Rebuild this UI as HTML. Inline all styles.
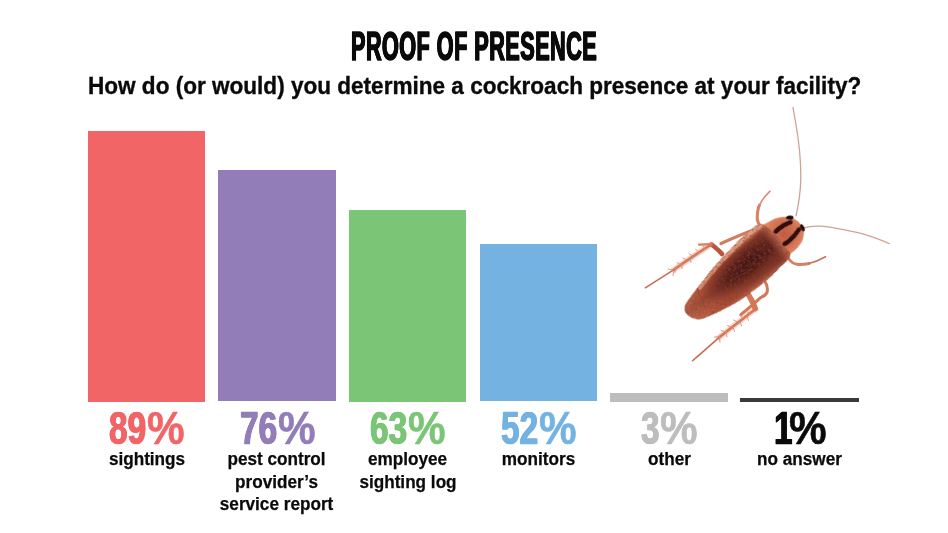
<!DOCTYPE html>
<html><head><meta charset="utf-8">
<style>
html,body{margin:0;padding:0;background:#fff;}
body{width:948px;height:533px;position:relative;overflow:hidden;font-family:"Liberation Sans",sans-serif;}
.bar{position:absolute;}
#title{position:absolute;left:350.8px;top:20.8px;text-shadow:0.9px 0 0 #0a0a0a,-0.9px 0 0 #0a0a0a;white-space:nowrap;font-weight:bold;font-size:41px;line-height:50px;color:#0a0a0a;transform-origin:0 0;transform:scaleX(0.526);-webkit-text-stroke:1.6px #0a0a0a;letter-spacing:1px;}
#sub{position:absolute;left:88.3px;top:71.3px;white-space:nowrap;font-weight:bold;font-size:24.5px;line-height:30px;color:#0a0a0a;transform-origin:0 0;transform:scaleX(0.9205);-webkit-text-stroke:0.35px #0a0a0a;}
.pct{position:absolute;top:403.6px;width:160px;height:50px;white-space:nowrap;font-weight:bold;font-size:45.5px;line-height:50px;}
.pct span{position:absolute;top:0;transform-origin:0 0;-webkit-text-stroke:0.6px currentColor;}
.pct .d{transform:scaleX(0.733);text-shadow:0.8px 0 0 currentColor,-0.8px 0 0 currentColor;}
.pct .p{transform:scaleX(0.93);}
.lbl{position:absolute;top:448px;width:160px;text-align:center;font-weight:bold;font-size:18px;line-height:22.5px;color:#0a0a0a;}
.lbl span{display:inline-block;transform:scaleX(0.953);white-space:nowrap;-webkit-text-stroke:0.25px #0a0a0a;}
</style></head><body>
<div id="title">PROOF OF PRESENCE</div>
<div id="sub">How do (or would) you determine a cockroach presence at your facility?</div>

<div class="bar" style="left:88px;top:131px;width:117px;height:270.5px;background:#f26566;"></div>
<div class="bar" style="left:218.4px;top:170.3px;width:117.5px;height:231.2px;background:#927db8;"></div>
<div class="bar" style="left:349px;top:210px;width:117.4px;height:191.5px;background:#7bc576;"></div>
<div class="bar" style="left:479.8px;top:243.7px;width:117.2px;height:157.8px;background:#74b2e2;"></div>
<div class="bar" style="left:610px;top:392.6px;width:118px;height:9px;background:#bdbdbd;"></div>
<div class="bar" style="left:740.3px;top:398px;width:119px;height:4.3px;background:#3a3a3a;"></div>

<div class="pct" style="left:108.7px;color:#f26566;"><span class="d">89</span><span class="p" style="left:38.1px">%</span></div>
<div class="pct" style="left:240.1px;color:#927db8;"><span class="d">76</span><span class="p" style="left:38.1px">%</span></div>
<div class="pct" style="left:370.3px;color:#7bc576;"><span class="d">63</span><span class="p" style="left:38.1px">%</span></div>
<div class="pct" style="left:501.4px;color:#74b2e2;"><span class="d">52</span><span class="p" style="left:38.1px">%</span></div>
<div class="pct" style="left:640.7px;color:#bdbdbd;"><span class="d">3</span><span class="p" style="left:19.8px">%</span></div>
<div class="pct" style="left:774.3px;color:#0a0a0a;"><span class="d">1</span><span class="p" style="left:14.8px">%</span></div>

<div class="lbl" style="left:66.5px;"><span>sightings</span></div>
<div class="lbl" style="left:197px;"><span>pest control</span><br><span>provider’s</span><br><span>service report</span></div>
<div class="lbl" style="left:328px;"><span>employee</span><br><span>sighting log</span></div>
<div class="lbl" style="left:458.5px;"><span>monitors</span></div>
<div class="lbl" style="left:589px;"><span>other</span></div>
<div class="lbl" style="left:720px;"><span>no answer</span></div>

<svg id="roach" width="948" height="533" viewBox="0 0 948 533" style="position:absolute;left:0;top:0;">
<defs>
<linearGradient id="gLen" x1="-72" y1="0" x2="46" y2="0" gradientUnits="userSpaceOnUse">
<stop offset="0" stop-color="#d97a5b"/><stop offset="0.12" stop-color="#c96647"/><stop offset="0.35" stop-color="#a4452f"/><stop offset="0.65" stop-color="#833323"/><stop offset="1" stop-color="#6f291e"/>
</linearGradient>
<linearGradient id="gAcross" x1="0" y1="-25" x2="0" y2="25" gradientUnits="userSpaceOnUse">
<stop offset="0" stop-color="#f0a484" stop-opacity="0.95"/><stop offset="0.1" stop-color="#e08a68" stop-opacity="0.8"/><stop offset="0.2" stop-color="#b85a40" stop-opacity="0.2"/><stop offset="0.5" stop-color="#4a1812" stop-opacity="0.3"/><stop offset="0.85" stop-color="#b85a40" stop-opacity="0.15"/><stop offset="1" stop-color="#dc8563" stop-opacity="0.75"/>
</linearGradient>
<radialGradient id="gDark" cx="6" cy="0" r="54" gradientUnits="userSpaceOnUse" gradientTransform="translate(6 0) scale(1 0.34) translate(-6 0)">
<stop offset="0" stop-color="#3a100e" stop-opacity="0.92"/><stop offset="0.5" stop-color="#4a1610" stop-opacity="0.72"/><stop offset="0.8" stop-color="#5a2018" stop-opacity="0.3"/><stop offset="1" stop-color="#5a2018" stop-opacity="0"/>
</radialGradient>
<linearGradient id="gFade" x1="36" y1="0" x2="47" y2="0" gradientUnits="userSpaceOnUse">
<stop offset="0" stop-color="#c96a4e" stop-opacity="0"/><stop offset="1" stop-color="#d4775a" stop-opacity="0.85"/>
</linearGradient>
<radialGradient id="gPro" cx="54" cy="0" r="22" gradientUnits="userSpaceOnUse">
<stop offset="0" stop-color="#c05c42"/><stop offset="0.6" stop-color="#d27252"/><stop offset="1" stop-color="#e48d6f"/>
</radialGradient>
<filter id="tex" x="-5%" y="-5%" width="110%" height="110%">
<feTurbulence type="fractalNoise" baseFrequency="0.35 0.9" numOctaves="2" seed="4" result="n"/>
<feColorMatrix in="n" type="matrix" values="0 0 0 0 0.2  0 0 0 0 0.05  0 0 0 0 0.04  0 0 0 2.2 -0.95" result="c"/>
<feComposite in="c" in2="SourceAlpha" operator="in" result="cc"/>
<feMerge><feMergeNode in="SourceGraphic"/><feMergeNode in="cc"/></feMerge>
</filter>
<filter id="soft" filterUnits="userSpaceOnUse" x="600" y="90" width="320" height="300"><feGaussianBlur stdDeviation="0.45"/></filter>
<filter id="soft2" filterUnits="userSpaceOnUse" x="-90" y="-40" width="180" height="80"><feGaussianBlur stdDeviation="0.55"/></filter>
</defs>
<g filter="url(#soft)">
<!-- antennae -->
<path d="M796 215.7 C798.5 205 800.6 195 800.8 178 C801 160 798.8 140 795.4 121 C794.3 115 793.4 110 793 107.5" fill="none" stroke="#cfa393" stroke-width="1.3" stroke-linecap="round"/>
<path d="M804.5 227.7 C810 226 815 226 820.1 226.2 C827 226.5 833 227.6 838.1 228.6 C846 230 855 232 862.1 233.7 C872 236.5 882 240.5 889.2 243.6" fill="none" stroke="#cfa393" stroke-width="1.3" stroke-linecap="round"/>
<!-- front-left leg -->
<path d="M761.5 228 C758.5 224 757 220.5 757.2 217 C757.4 212 758 208 759.5 205" fill="none" stroke="#d98063" stroke-width="3" stroke-linecap="round"/>
<path d="M759.5 205 C762 199.5 766 195 770 191.2" fill="none" stroke="#d98a70" stroke-width="1.6" stroke-linecap="round"/>
<!-- front-left femur along body -->
<path d="M721 243.5 C731 239 741 234.5 751 231" fill="none" stroke="#d47c60" stroke-width="3.2" stroke-linecap="round"/>
<!-- front-right leg -->
<path d="M788.5 258.5 C791 262 794 264 797 264.3 C801 264.8 805 264.3 809 263.5" fill="none" stroke="#d98063" stroke-width="3" stroke-linecap="round"/>
<path d="M809 263.5 C815 262 820.5 259.5 825.5 256.7" fill="none" stroke="#c9755a" stroke-width="1.6" stroke-linecap="round"/>
<path d="M711.500 244.400 C700 251.500 687 260.500 674 269.600" fill="none" stroke="#f0b9a4" stroke-opacity="0.55" stroke-width="6" stroke-linecap="round"/>
<path d="M755.500 309 C744 318 731 328 718.800 337.700" fill="none" stroke="#f0b9a4" stroke-opacity="0.55" stroke-width="6" stroke-linecap="round"/>
<!-- left middle leg -->
<path d="M722 254 C718.5 250.5 715.5 247 711.5 244.6" fill="none" stroke="#b9573d" stroke-width="4.600" stroke-linecap="round"/>
<path d="M699 244.6 L711 244.2" fill="none" stroke="#d98063" stroke-width="2.2" stroke-linecap="round"/>
<path d="M711.5 244.4 C700 251.5 687 260.5 674 269.6" fill="none" stroke="#d67a5e" stroke-width="2.8" stroke-linecap="round"/>
<path d="M674 269.6 C664 276 654.5 282 645.3 287.8" fill="none" stroke="#c9694f" stroke-width="1.5" stroke-linecap="round"/>
<!-- spines on left middle tibia -->
<path d="M705 248.5 l-3-4 M699 252.5 l-3.5-3.5 M693 256.5 l-4-3 M687 260.5 l-4-2.5 M681 265 l-4-2.5 M676 268 l-1 4.5 M682 264 l0 4.5 M690 258.5 l1 4 M673 270 l-5-1 M674 270.5 l-1 5" fill="none" stroke="#dc9078" stroke-width="0.9" stroke-linecap="round"/>
<!-- right middle leg -->
<path d="M765.5 282.500 C767.500 286 767.800 289.500 767 292.500 C765.500 295.500 763 296.800 760.600 297.700 C755 303 748 309 741 314.500" fill="none" stroke="#d4785b" stroke-width="3" stroke-linecap="round"/>
<!-- hind right leg -->
<path d="M748 294 C751 298.500 753.500 303.500 755.200 308.500" fill="none" stroke="#d67658" stroke-width="5.600" stroke-linecap="round"/>
<path d="M755.5 309 C744 318 731 328 718.8 337.7" fill="none" stroke="#d4775b" stroke-width="2.8" stroke-linecap="round"/>
<path d="M718.8 337.7 C710 345.5 701 353.5 692.5 360.8" fill="none" stroke="#c9694f" stroke-width="1.5" stroke-linecap="round"/>
<path d="M750 313.5 l-4.5-2.5 M744 318 l-4.5-2.5 M738 322.5 l-4.500-2.500 M732 327.500 l-4.500-2 M726 332 l-5-1.500 M747 316 l1.500 4.500 M740 321.500 l1.500 4.500 M733 327 l1.500 4.500 M726 332.500 l1 4.500 M720 337 l-5.500 0 M719.500 337.500 l0.500 5" fill="none" stroke="#dc9078" stroke-width="0.9" stroke-linecap="round"/>
</g>
<g transform="translate(742.2 268.2) rotate(-39)" filter="url(#soft2)">
<!-- pronotum -->
<path d="M36.0 -20.5 C38.2 -22.4 46.0 -19.9 50.0 -19.2 C54.0 -18.5 57.0 -17.9 60.0 -16.5 C63.0 -15.1 65.8 -13.1 67.8 -11.0 C69.8 -8.9 71.1 -6.2 72.0 -4.0 C72.9 -1.8 73.1 -0.2 73.0 2.0 C72.9 4.2 72.5 7.3 71.5 9.4 C70.5 11.5 68.5 13.2 67.0 14.5 C65.5 15.8 64.3 16.6 62.3 17.3 C60.3 18.1 57.5 18.7 55.0 19.0 C52.5 19.3 50.3 19.2 47.5 19.2 C44.7 19.2 39.8 21.2 38.0 19.0 C36.2 16.8 37.2 10.5 37.0 6.0 C36.8 1.5 37.2 -3.6 37.0 -8.0 C36.8 -12.4 33.8 -18.6 36.0 -20.5Z" fill="url(#gPro)"/>
<path d="M49.300 -7.400 C54 -8 60 -7.500 66.500 -5.400" fill="none" stroke="#33100d" stroke-width="4.600" stroke-linecap="round"/>
<path d="M48.200 7.900 C54 8.600 61 8.200 68.500 5.600" fill="none" stroke="#33100d" stroke-width="4.600" stroke-linecap="round"/>
<g filter="url(#tex)">
<path d="M-72.0 0.5 C-72.2 -1.8 -71.3 -3.5 -70.0 -5.0 C-68.7 -6.5 -69.0 -6.9 -64.0 -8.5 C-59.0 -10.1 -48.0 -12.7 -40.0 -14.5 C-32.0 -16.3 -24.3 -18.1 -16.0 -19.5 C-7.7 -20.9 2.5 -22.2 10.0 -23.0 C17.5 -23.8 23.7 -24.3 29.0 -24.2 C34.3 -24.1 39.2 -24.9 42.0 -22.5 C44.8 -20.1 45.3 -15.1 46.0 -10.0 C46.7 -4.9 46.2 2.9 46.0 8.0 C45.8 13.1 48.0 18.0 45.0 20.5 C42.0 23.0 33.8 22.5 28.0 23.2 C22.2 23.9 17.5 24.5 10.0 24.6 C2.5 24.7 -8.7 24.7 -17.0 24.0 C-25.3 23.3 -32.5 21.9 -40.0 20.3 C-47.5 18.7 -57.2 16.4 -62.0 14.5 C-66.8 12.6 -67.3 11.3 -69.0 9.0 C-70.7 6.7 -71.8 2.8 -72.0 0.5Z" fill="url(#gLen)"/>
<path d="M-72.0 0.5 C-72.2 -1.8 -71.3 -3.5 -70.0 -5.0 C-68.7 -6.5 -69.0 -6.9 -64.0 -8.5 C-59.0 -10.1 -48.0 -12.7 -40.0 -14.5 C-32.0 -16.3 -24.3 -18.1 -16.0 -19.5 C-7.7 -20.9 2.5 -22.2 10.0 -23.0 C17.5 -23.8 23.7 -24.3 29.0 -24.2 C34.3 -24.1 39.2 -24.9 42.0 -22.5 C44.8 -20.1 45.3 -15.1 46.0 -10.0 C46.7 -4.9 46.2 2.9 46.0 8.0 C45.8 13.1 48.0 18.0 45.0 20.5 C42.0 23.0 33.8 22.5 28.0 23.2 C22.2 23.9 17.5 24.5 10.0 24.6 C2.5 24.7 -8.7 24.7 -17.0 24.0 C-25.3 23.3 -32.5 21.9 -40.0 20.3 C-47.5 18.7 -57.2 16.4 -62.0 14.5 C-66.8 12.6 -67.3 11.3 -69.0 9.0 C-70.7 6.7 -71.8 2.8 -72.0 0.5Z" fill="url(#gAcross)"/>
<path d="M-72.0 0.5 C-72.2 -1.8 -71.3 -3.5 -70.0 -5.0 C-68.7 -6.5 -69.0 -6.9 -64.0 -8.5 C-59.0 -10.1 -48.0 -12.7 -40.0 -14.5 C-32.0 -16.3 -24.3 -18.1 -16.0 -19.5 C-7.7 -20.9 2.5 -22.2 10.0 -23.0 C17.5 -23.8 23.7 -24.3 29.0 -24.2 C34.3 -24.1 39.2 -24.9 42.0 -22.5 C44.8 -20.1 45.3 -15.1 46.0 -10.0 C46.7 -4.9 46.2 2.9 46.0 8.0 C45.8 13.1 48.0 18.0 45.0 20.5 C42.0 23.0 33.8 22.5 28.0 23.2 C22.2 23.9 17.5 24.5 10.0 24.6 C2.5 24.7 -8.7 24.7 -17.0 24.0 C-25.3 23.3 -32.5 21.9 -40.0 20.3 C-47.5 18.7 -57.2 16.4 -62.0 14.5 C-66.8 12.6 -67.3 11.3 -69.0 9.0 C-70.7 6.7 -71.8 2.8 -72.0 0.5Z" fill="url(#gDark)"/>
<path d="M-72.0 0.5 C-72.2 -1.8 -71.3 -3.5 -70.0 -5.0 C-68.7 -6.5 -69.0 -6.9 -64.0 -8.5 C-59.0 -10.1 -48.0 -12.7 -40.0 -14.5 C-32.0 -16.3 -24.3 -18.1 -16.0 -19.5 C-7.7 -20.9 2.5 -22.2 10.0 -23.0 C17.5 -23.8 23.7 -24.3 29.0 -24.2 C34.3 -24.1 39.2 -24.9 42.0 -22.5 C44.8 -20.1 45.3 -15.1 46.0 -10.0 C46.7 -4.9 46.2 2.9 46.0 8.0 C45.8 13.1 48.0 18.0 45.0 20.5 C42.0 23.0 33.8 22.5 28.0 23.2 C22.2 23.9 17.5 24.5 10.0 24.6 C2.5 24.7 -8.7 24.7 -17.0 24.0 C-25.3 23.3 -32.5 21.9 -40.0 20.3 C-47.5 18.7 -57.2 16.4 -62.0 14.5 C-66.8 12.6 -67.3 11.3 -69.0 9.0 C-70.7 6.7 -71.8 2.8 -72.0 0.5Z" fill="url(#gFade)"/>
<path d="M-46 -11.200 C-36 -13.400 -26 -15.400 -16 -17.300 C-6 -19 2 -20 10 -20.800 C18 -21.600 24 -22 29 -22 C33 -22 37 -21.600 40.500 -20.600" fill="none" stroke="#eeaa8a" stroke-opacity="0.72" stroke-width="3.400" stroke-linecap="round"/>
</g>
<!-- eyes -->
<ellipse cx="68.800" cy="-9.300" rx="3.800" ry="2" transform="rotate(38 68.800 -9.300)" fill="#1e0a08"/>
<ellipse cx="72.300" cy="6.500" rx="1.800" ry="3.800" transform="rotate(12 72.300 6.500)" fill="#1e0a08"/>
</g>
</svg>
</body></html>
